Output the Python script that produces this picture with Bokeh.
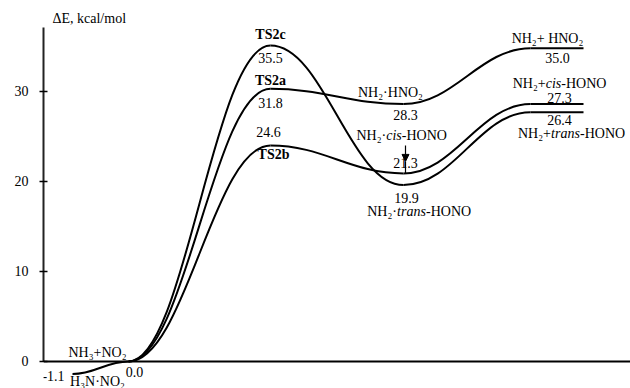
from bokeh.plotting import figure
from bokeh.models import (Range1d, LinearAxis, FixedTicker, Span, Arrow, NormalHead,
                          ColumnDataSource)
from bokeh.core.properties import value
from bokeh.embed import file_html
from bokeh.resources import INLINE

# ---------------- data (as drawn in the reference) ----------------
# reaction-coordinate stations: complex, reactants, TS, intermediate, product start, product end
rc = [0.29, 0.85, 2.27, 3.60, 4.87, 5.40]
complex_E = -1.4          # H3N·NO2 well (labelled -1.1)
react_E = 0.0             # NH3 + NO2
path_names = ["TS2a", "TS2b", "TS2c"]
ts_E = [30.3, 24.0, 35.1]          # drawn TS heights
int_E = [28.6, 20.9, 19.6]         # NH2·HNO2, NH2·cis-HONO, NH2·trans-HONO
prod_E = [34.8, 28.6, 27.7]        # NH2+HNO2, NH2+cis-HONO, NH2+trans-HONO
ts_labels = ["31.8", "24.6", "35.5"]
int_labels = ["28.3", "21.3", "19.9"]
prod_labels = ["35.0", "27.3", "26.4"]
complex_label, react_label = "-1.1", "0.0"
y_ticks = [0, 10, 20, 30]

FONT = "'Liberation Serif', 'Times New Roman', serif"
FS = 14
W, H = 630, 388
Y0, Y1 = -3.0, 40.11
X0, X1 = 0.0, 5.87
AXIS_TOP = 37.1

p = figure(width=W, height=H, output_backend="svg", toolbar_location=None,
           x_range=Range1d(X0, X1), y_range=Range1d(Y0, Y1),
           x_axis_location=None, y_axis_location=None,
           min_border_left=43, min_border_right=0, min_border_top=0, min_border_bottom=0)
p.outline_line_color = None
p.xgrid.visible = False
p.ygrid.visible = False
p.background_fill_color = "white"
p.border_fill_color = "white"

yaxis = LinearAxis(ticker=FixedTicker(ticks=y_ticks), bounds=(0, AXIS_TOP))
yaxis.axis_line_width = 2
yaxis.axis_line_color = "#222222"
yaxis.major_tick_in = 4
yaxis.major_tick_out = 4
yaxis.major_tick_line_width = 1.5
yaxis.minor_tick_line_color = None
yaxis.major_label_standoff = 11
yaxis.major_label_text_font = FONT
yaxis.major_label_text_font_size = f"{FS}px"
yaxis.major_label_text_color = "black"
p.add_layout(yaxis, "left")

p.add_layout(Span(location=0, dimension="width", line_color="black", line_width=2))

# ---------------- curves (cubic Bezier, horizontal tangents at stationary points) -------------
F = 0.4
seg = dict(x0=[], y0=[], x1=[], y1=[], cx0=[], cy0=[], cx1=[], cy1=[])


def add_seg(xa, ya, xb, yb):
    dx = xb - xa
    seg["x0"].append(xa); seg["y0"].append(ya)
    seg["x1"].append(xb); seg["y1"].append(yb)
    seg["cx0"].append(xa + F * dx); seg["cy0"].append(ya)
    seg["cx1"].append(xb - F * dx); seg["cy1"].append(yb)


add_seg(rc[0], complex_E, rc[1], react_E)
for i in range(3):
    pts = [(rc[1], react_E), (rc[2], ts_E[i]), (rc[3], int_E[i]), (rc[4], prod_E[i]), (rc[5], prod_E[i])]
    for a, b in zip(pts[:-1], pts[1:]):
        add_seg(a[0], a[1], b[0], b[1])

p.bezier(source=ColumnDataSource(seg), x0="x0", y0="y0", x1="x1", y1="y1",
         cx0="cx0", cy0="cy0", cx1="cx1", cy1="cy1", line_color="black", line_width=2)

# ---------------- texts ----------------
T = dict(x=[], y=[], text=[], dx=[], dy=[], style=[], align=[])


def lab(x, y, s, dx, dy, style="normal", align="center"):
    T["x"].append(x); T["y"].append(y); T["text"].append(s)
    T["dx"].append(dx); T["dy"].append(dy); T["style"].append(style); T["align"].append(align)


def mixed(x, y, pre, it, post, dx, dy):
    # dx = centre of the italic part, in px from the anchor
    half = (7.25 if it == "cis" else 13.5) * FS / 13
    lab(x, y, pre, dx - half, dy, "normal", "right")
    lab(x, y, it, dx, dy, "italic", "center")
    lab(x, y, post, dx + half, dy, "normal", "left")


lab(X0, AXIS_TOP, "ΔE, kcal/mol", 9, -9, "normal", "left")

# reactant region
lab(rc[0], complex_E, complex_label, -19, 2)
lab(rc[0], complex_E, "H₃N·NO₂", 25, 7)
lab(rc[1], react_E, "NH₃+NO₂", -31, -9)
lab(rc[1], react_E, react_label, 6, 11)

# transition states: TS2a, TS2b, TS2c
lab(rc[2], ts_E[2], "TS2c", 0, -11, "bold")
lab(rc[2], ts_E[2], ts_labels[2], 0, 12)
lab(rc[2], ts_E[0], "TS2a", 0, -8, "bold")
lab(rc[2], ts_E[0], ts_labels[0], 0, 14)
lab(rc[2], ts_E[1], ts_labels[1], -2, -13)
lab(rc[2], ts_E[1], "TS2b", 3, 9, "bold")

# intermediates
lab(rc[3], int_E[0], "NH₂·HNO₂", -13, -12)
lab(rc[3], int_E[0], int_labels[0], 2, 11)
mixed(rc[3], int_E[1], "NH₂·", "cis", "-HONO", -9.5, -38)
lab(rc[3], int_E[1], int_labels[1], 2, -10)
lab(rc[3], int_E[2], int_labels[2], 3, 13)
mixed(rc[3], int_E[2], "NH₂·", "trans", "-HONO", 8, 26)

# products
lab(rc[5], prod_E[0], "NH₂+ HNO₂", -36, -10)
lab(rc[5], prod_E[0], prod_labels[0], -26, 10)
mixed(rc[5], prod_E[1], "NH₂+", "cis", "-HONO", -30, -21)
lab(rc[5], prod_E[1], prod_labels[1], -24, -6)
lab(rc[5], prod_E[2], prod_labels[2], -24, 8)
mixed(rc[5], prod_E[2], "NH₂+", "trans", "-HONO", -18, 21)

p.text(source=ColumnDataSource(T), x="x", y="y", text="text", x_offset="dx", y_offset="dy",
       text_font=value(FONT), text_font_size=f"{FS}px", text_font_style="style",
       text_align="align", text_baseline="middle", text_color="black")

# arrow pointing at NH2·cis-HONO
upp = (Y1 - Y0) / H  # data units per pixel
p.add_layout(Arrow(x_start=rc[3] + 0.02, y_start=int_E[1] + 28 * upp,
                   x_end=rc[3] + 0.02, y_end=int_E[1] + 12 * upp,
                   line_color="black", line_width=1.2,
                   end=NormalHead(size=7, fill_color="black", line_color="black")))
p.segment(x0=[rc[3] + 0.02], y0=[int_E[1] + 12 * upp], x1=[rc[3] + 0.02], y1=[int_E[1]],
          line_color="black", line_width=1.2)

open("out.html", "w").write(file_html(p, INLINE))
